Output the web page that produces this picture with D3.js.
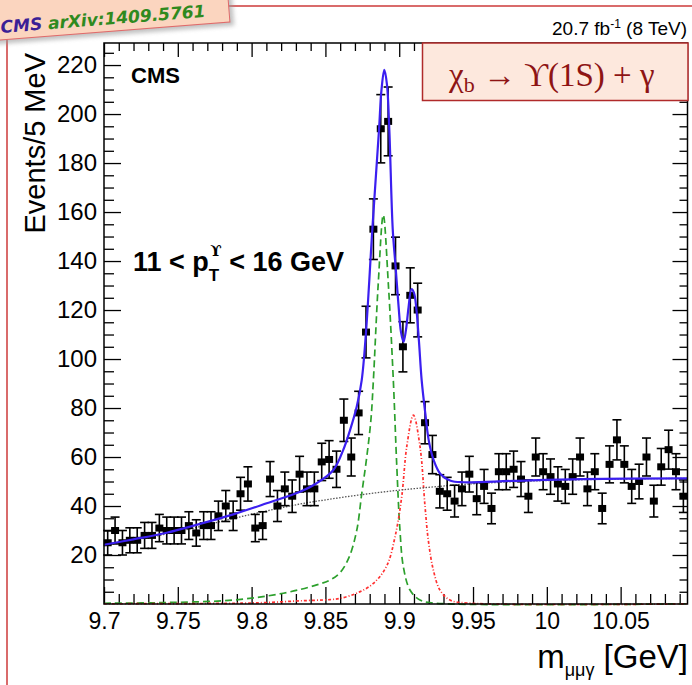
<!DOCTYPE html>
<html>
<head>
<meta charset="utf-8">
<script src="https://cdn.jsdelivr.net/npm/d3@7"></script>
<style>
body { margin: 0; background: #fff; }
svg text { font-family: 'Liberation Sans', Arial, Helvetica, sans-serif; }
</style>
</head>
<body>
<div id="chart"></div>
<script>
// Constants
const width = 692
const height = 685
const margin = { top: 43, right: 4.5, bottom: 81, left: 104 }
const graphWidth = width - margin.left - margin.right
const graphHeight = height - margin.top - margin.bottom

// Data: bin centres (GeV) and events per 5 MeV
const massBins = [
    9.7025, 9.7075, 9.7125, 9.7175, 9.7225, 9.7275, 9.7325, 9.7375, 9.7425, 9.7475,
    9.7525, 9.7575, 9.7625, 9.7675, 9.7725, 9.7775, 9.7825, 9.7875, 9.7925, 9.7975,
    9.8025, 9.8075, 9.8125, 9.8175, 9.8225, 9.8275, 9.8325, 9.8375, 9.8425, 9.8475,
    9.8525, 9.8575, 9.8625, 9.8675, 9.8725, 9.8775, 9.8825, 9.8875, 9.8925, 9.8975,
    9.9025, 9.9075, 9.9125, 9.9175, 9.9225, 9.9275, 9.9325, 9.9375, 9.9425, 9.9475,
    9.9525, 9.9575, 9.9625, 9.9675, 9.9725, 9.9775, 9.9825, 9.9875, 9.9925, 9.9975,
    10.0025, 10.0075, 10.0125, 10.0175, 10.0225, 10.0275, 10.0325, 10.0375, 10.0425, 10.0475,
    10.0525, 10.0575, 10.0625, 10.0675, 10.0725, 10.0775, 10.0825, 10.0875, 10.0925
]
const events = [
    25, 30, 25, 26, 26, 28, 28, 31, 30, 30,
    30, 32, 29, 32, 32, 36, 40, 36, 45, 49,
    31, 32, 51, 40, 47, 44, 53, 47, 47, 58,
    59, 55, 75, 60, 78, 111, 153, 194, 197, 138,
    105, 126, 120, 74, 61, 46, 45, 42, 47, 53,
    43, 48, 39, 54, 54, 55, 51, 44, 60, 54,
    52, 49, 48, 52, 60, 47, 54, 39, 57, 67,
    57, 48, 50, 60, 42, 56, 63, 54, 44
]

// Fit curves
const totalFitX = [9.700, 9.7199, 9.7425, 9.7650, 9.7876, 9.8102, 9.8328, 9.8441, 9.8554, 9.8621,
    9.8667, 9.8712, 9.8746, 9.8775, 9.8818, 9.8863, 9.8880, 9.8899, 9.8917, 9.8933,
    9.8956, 9.8975, 9.8995, 9.9012, 9.9029, 9.9046, 9.9063, 9.9083, 9.9100, 9.9117,
    9.9134, 9.9152, 9.9177, 9.9200, 9.9234, 9.9279, 9.9348, 9.9438, 9.9779, 10.0234, 10.0953]
const totalFitY = [24.2, 26.4, 29.1, 32.7, 36.6, 41.1, 45.8, 49.3, 54.7, 62.9,
    71.0, 80.5, 91.4, 111, 153, 193.5, 210, 218, 212, 193.5,
    153, 138, 122, 111, 107, 112, 121, 128.5, 127, 120,
    107, 91.4, 77.7, 66.8, 58.6, 53.1, 50.3, 49.7, 50.3, 51.0, 51.3]

const chib1X = [9.700, 9.7425, 9.7876, 9.8215, 9.8441, 9.8531, 9.8599, 9.8660, 9.8712, 9.8746,
    9.8780, 9.8808, 9.8825, 9.8858, 9.8892, 9.8926, 9.8960, 9.8983, 9.9005, 9.9028,
    9.9073, 9.9141, 9.9234, 10.0953]
const chib1Y = [0.3, 0.6, 1.6, 4.4, 7.8, 9.8, 12.8, 19, 30, 45,
    60, 75, 91.4, 130.9, 158.8, 130.9, 91.4, 57, 30.2, 15.2,
    5.7, 1.6, 0.4, 0.1]

const chib2X = [9.700, 9.7876, 9.8102, 9.8328, 9.8531, 9.8599, 9.8712, 9.8825, 9.8915, 9.8972,
    9.9017, 9.9051, 9.9096, 9.9141, 9.9175, 9.9197, 9.9231, 9.9276, 9.9344, 9.9461, 10.0953]
const chib2Y = [0.1, 0.3, 0.6, 1.3, 1.8, 2.3, 4.4, 8.4, 15.5, 27.5,
    43.8, 64.2, 77.1, 64.2, 39.7, 26.1, 13.9, 5.7, 1.6, 0.4, 0.05]

const bkgX = [9.700, 9.7199, 9.7425, 9.7650, 9.7876, 9.8102, 9.8328, 9.8554, 9.8779, 9.9005,
    9.9231, 9.9457, 9.9700, 10.000, 10.050, 10.0953]
const bkgY = [23.8, 26.0, 28.6, 31.6, 34.9, 38.0, 40.8, 43.0, 44.9, 46.5,
    47.8, 48.9, 49.7, 50.4, 51.0, 51.3]

// Tick labels
const xTickValues = [9.7, 9.75, 9.8, 9.85, 9.9, 9.95, 10, 10.05]
const xTickLabels = ['9.7', '9.75', '9.8', '9.85', '9.9', '9.95', '10', '10.05']
const yTickValues = [20, 40, 60, 80, 100, 120, 140, 160, 180, 200, 220]

// Scales
const x = d3.scaleLinear().domain([9.7, 10.0953]).range([0, graphWidth])
const y = d3.scaleLinear().domain([0, 229]).range([graphHeight, 0])

const xMinor = d3.range(9.71, 10.095, 0.01).filter(v => Math.abs(Math.round(v * 20) - v * 20) > 1e-6)
const yMinor = d3.range(5, 229, 5).filter(v => v % 20 !== 0)

const svg = d3.select('#chart').append('svg')
    .attr('width', width)
    .attr('height', height)

const defs = svg.append('defs')
defs.append('filter').attr('id', 'blur')
    .append('feGaussianBlur').attr('stdDeviation', 2)

// Page decorations (red frame lines + arXiv badge)
svg.append('line')
    .attr('x1', 228).attr('x2', width).attr('y1', 6).attr('y2', 6)
    .attr('stroke', '#cc3a3a').attr('stroke-width', 1.5)
svg.append('line')
    .attr('x1', 7).attr('x2', 7).attr('y1', 38).attr('y2', height)
    .attr('stroke', '#cc3a3a').attr('stroke-width', 1.5)

const badge = svg.append('g').attr('transform', 'translate(0, 32) rotate(-4.5)')
badge.append('rect')
    .attr('x', -30).attr('y', -60).attr('width', 262).attr('height', 68)
    .attr('transform', 'translate(2, 4)')
    .attr('fill', '#999').attr('opacity', 0.6).attr('filter', 'url(#blur)')
badge.append('rect')
    .attr('x', -30).attr('y', -60).attr('width', 260).attr('height', 68)
    .attr('fill', '#fbd5bf').attr('stroke', '#e06a6a').attr('stroke-width', 1)
const badgeText = badge.append('text')
    .attr('x', 1).attr('y', 1)
    .style('font-family', "'DejaVu Sans', sans-serif")
    .style('font-weight', 'bold').style('font-style', 'italic')
    .style('font-size', '17px')
badgeText.append('tspan').attr('fill', '#3b1f96').text('CMS ')
badgeText.append('tspan').attr('fill', '#2f8a1e').text('arXiv:1409.5761')

// Graph group
const graph = svg.append('g')
    .attr('transform', `translate(${margin.left}, ${margin.top})`)

// Axes (ticks pointing inwards, ROOT style)
const styleAxis = g => {
    g.select('.domain').remove()
    g.selectAll('line').attr('stroke', '#000').attr('stroke-width', 1.3)
    g.selectAll('text').attr('fill', '#000').style('font-size', '23px')
}

graph.append('g')
    .attr('transform', `translate(0, ${graphHeight})`)
    .call(d3.axisBottom(x).tickValues(xTickValues).tickSize(-17).tickPadding(9)
        .tickFormat((d, i) => xTickLabels[i]))
    .call(styleAxis)
graph.append('g')
    .attr('transform', `translate(0, ${graphHeight})`)
    .call(d3.axisBottom(x).tickValues(xMinor).tickSize(-10).tickFormat(''))
    .call(styleAxis)
graph.append('g')
    .call(d3.axisTop(x).tickValues(xTickValues).tickSize(-14).tickFormat(''))
    .call(styleAxis)
graph.append('g')
    .call(d3.axisTop(x).tickValues(xMinor).tickSize(-8).tickFormat(''))
    .call(styleAxis)

graph.append('g')
    .call(d3.axisLeft(y).tickValues(yTickValues).tickSize(-17).tickPadding(7))
    .call(styleAxis)
    .call(g => g.selectAll('text').style('font-size', '24px'))
graph.append('g')
    .call(d3.axisLeft(y).tickValues(yMinor).tickSize(-10).tickFormat(''))
    .call(styleAxis)
graph.append('g')
    .attr('transform', `translate(${graphWidth}, 0)`)
    .call(d3.axisRight(y).tickValues(yTickValues).tickSize(-15).tickFormat(''))
    .call(styleAxis)
graph.append('g')
    .attr('transform', `translate(${graphWidth}, 0)`)
    .call(d3.axisRight(y).tickValues(yMinor).tickSize(-8).tickFormat(''))
    .call(styleAxis)

// Fit components
const curveLine = d3.line()
    .x(d => x(d[0]))
    .y(d => y(d[1]))
    .curve(d3.curveCatmullRom.alpha(0.5))

const zipped = (xs, ys) => xs.map((v, i) => [v, ys[i]])

graph.append('path')
    .datum(zipped(chib1X, chib1Y))
    .attr('d', curveLine)
    .attr('fill', 'none').attr('stroke', '#2ca02c')
    .attr('stroke-width', 1.7).attr('stroke-dasharray', '7,4')
graph.append('path')
    .datum(zipped(chib2X, chib2Y))
    .attr('d', curveLine)
    .attr('fill', 'none').attr('stroke', '#ff3030')
    .attr('stroke-width', 1.7).attr('stroke-dasharray', '3,2,1,2')
graph.append('path')
    .datum(zipped(bkgX, bkgY))
    .attr('d', curveLine)
    .attr('fill', 'none').attr('stroke', '#555')
    .attr('stroke-width', 1.3).attr('stroke-dasharray', '1.5,1.5')

// Data points with error bars
const points = graph.selectAll('.pt')
    .data(massBins.map((m, i) => ({ m: m, n: events[i], e: Math.sqrt(events[i]) })))
    .enter().append('g')
    .attr('class', 'pt')
points.append('line')
    .attr('x1', d => x(d.m)).attr('x2', d => x(d.m))
    .attr('y1', d => y(d.n - d.e)).attr('y2', d => y(d.n + d.e))
    .attr('stroke', '#000').attr('stroke-width', 1.6)
points.append('line')
    .attr('x1', d => x(d.m) - 4.5).attr('x2', d => x(d.m) + 4.5)
    .attr('y1', d => y(d.n + d.e)).attr('y2', d => y(d.n + d.e))
    .attr('stroke', '#000').attr('stroke-width', 1.6)
points.append('line')
    .attr('x1', d => x(d.m) - 4.5).attr('x2', d => x(d.m) + 4.5)
    .attr('y1', d => y(d.n - d.e)).attr('y2', d => y(d.n - d.e))
    .attr('stroke', '#000').attr('stroke-width', 1.6)
points.append('rect')
    .attr('x', d => x(d.m) - 4).attr('y', d => y(d.n) - 3.5)
    .attr('width', 8).attr('height', 7)
    .attr('fill', '#000')

// Total fit on top
graph.append('path')
    .datum(zipped(totalFitX, totalFitY))
    .attr('d', curveLine)
    .attr('fill', 'none').attr('stroke', '#3b1ff0')
    .attr('stroke-width', 2.2)

// Frame
graph.append('rect')
    .attr('width', graphWidth).attr('height', graphHeight)
    .attr('fill', 'none').attr('stroke', '#000').attr('stroke-width', 1.5)

// Labels
graph.append('text')
    .attr('x', 27).attr('y', 83 - margin.top)
    .style('font-weight', 'bold').style('font-size', '22px')
    .text('CMS')

const ptLabel = graph.append('text')
    .attr('x', 29).attr('y', 271 - margin.top)
    .style('font-weight', 'bold').style('font-size', '27px')
ptLabel.append('tspan').text('11 < p')
ptLabel.append('tspan').attr('dy', 10).style('font-size', '17px').text('T')
ptLabel.append('tspan').attr('dx', -9).attr('dy', -25).style('font-size', '15px')
    .style('font-family', "'DejaVu Serif', serif").text('ϒ')
ptLabel.append('tspan').attr('dy', 15).text(' < 16 GeV')

svg.append('text')
    .attr('x', 687).attr('y', 35)
    .attr('text-anchor', 'end')
    .style('font-size', '19px')
    .call(t => {
        t.append('tspan').text('20.7 fb')
        t.append('tspan').attr('dy', -7).style('font-size', '12px').text('-1')
        t.append('tspan').attr('dy', 7).text(' (8 TeV)')
    })

// Process box
svg.append('rect')
    .attr('x', 422.5).attr('y', 43).attr('width', 265.5).attr('height', 57.5)
    .attr('fill', '#fde8dd').attr('stroke', '#b02a2a').attr('stroke-width', 1.5)
const procText = svg.append('text')
    .attr('x', 449).attr('y', 86)
    .attr('fill', '#8e1414')
    .style('font-family', "'Liberation Serif', 'DejaVu Serif', serif")
    .style('font-size', '33px')
procText.append('tspan').text('χ')
procText.append('tspan').attr('dy', 6).style('font-size', '22px').text('b')
procText.append('tspan').attr('dy', -6).text(' → ϒ(1S) + γ')

// Axis titles
svg.append('text')
    .attr('transform', 'translate(45, 53) rotate(-90)')
    .attr('text-anchor', 'end')
    .style('font-size', '29px')
    .text('Events/5 MeV')

const xTitle = svg.append('text')
    .attr('x', 688).attr('y', 668)
    .attr('text-anchor', 'end')
    .style('font-size', '33px')
xTitle.append('tspan').text('m')
xTitle.append('tspan').attr('dy', 8).style('font-size', '18px').text('μμγ')
xTitle.append('tspan').attr('dy', -8).text(' [GeV]')
</script>
</body>
</html>
